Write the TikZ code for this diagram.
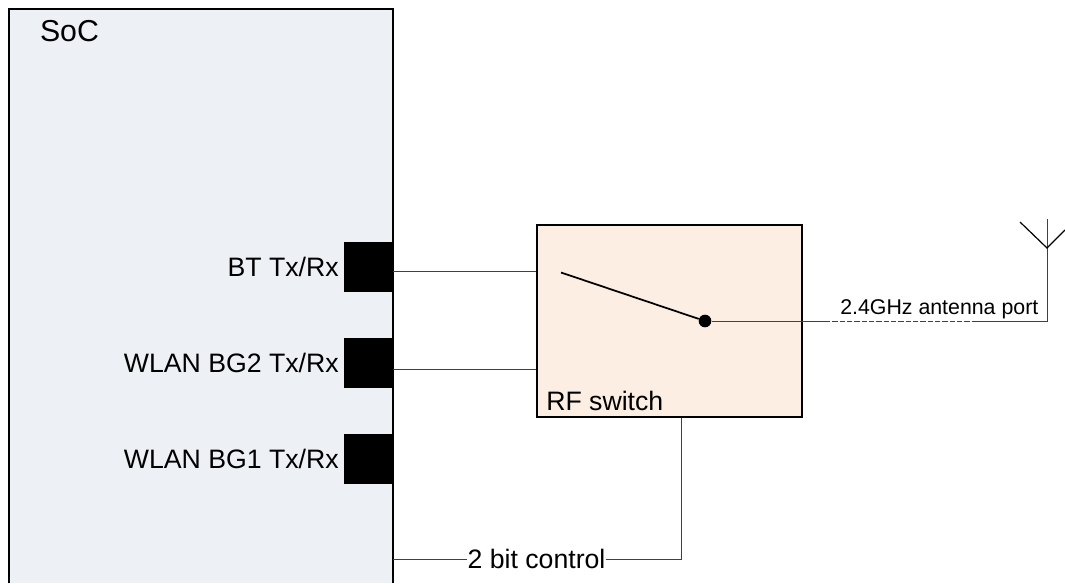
\documentclass[tikz,border=0pt]{standalone}
\usepackage{fontspec}
\setmainfont{Liberation Sans}
\definecolor{socfill}{HTML}{EDF0F5}
\definecolor{switchfill}{HTML}{FDEEE3}
\definecolor{wirecol}{HTML}{404040}
\tikzset{
    padbox/.style={draw=black,fill=black,minimum width=36.4pt,minimum height=37pt,inner sep=0pt},
    padlabel/.style={anchor=east,inner sep=0pt,font=\fontsize{20}{24}\selectfont},
    wire/.style={draw=wirecol,line width=0.7pt},
}
\begin{document}
\begin{tikzpicture}[x=0.75pt,y=-0.75pt]
                \useasboundingbox (0,0) rectangle (1065,583);
                \fill[socfill] (9,9) rectangle (393,583);
                \draw[line width=1.1pt] (9,583) -- (9,9) -- (393,9) -- (393,583);
                \node[anchor=center,inner sep=0pt,font=\fontsize{22.7}{27}\selectfont] (soclabel) at (69.5,31) {SoC};
                \node[padbox] (btpad) at (368.7,266.7) {};
                \node[padbox] (bgtwopad) at (368.7,362.7) {};
                \node[padbox] (bgonepad) at (368.7,459) {};
                \node[padlabel] (btlabel) at (339,267) {BT Tx/Rx};
                \node[padlabel] (bgtwolabel) at (339,363) {WLAN BG2 Tx/Rx};
                \node[padlabel] (bgonelabel) at (339,459) {WLAN BG1 Tx/Rx};
                \node[draw=black,fill=switchfill,line width=1.1pt,minimum width=198.8pt,minimum height=144pt,inner sep=0pt] (switch) at (669.5,321) {};
                \node[anchor=south west,inner sep=0pt,font=\fontsize{20}{24}\selectfont] (switchlabel) at (546,411) {RF switch};
                \node[circle,fill=black,minimum size=9.5pt,inner sep=0pt] (pivot) at (705,321) {};
                \coordinate (throw) at (561,272.5);
                \draw[line width=1.3pt] (throw) -- (pivot);
                \coordinate (btin) at (btpad.east |- 0,271);
                \coordinate (bgin) at (bgtwopad.east |- 0,369);
                \draw[wire] (btin) -- (btin -| switch.west);
                \draw[wire] (bgin) -- (bgin -| switch.west);
                % antenna
                \coordinate (feed) at (1047,321);
                \coordinate (apex) at (1047,248);
                \coordinate (tip) at (1047,219);
                \coordinate (dashstart) at (825,321);
                \coordinate (dashend) at (975,321);
                \draw[wire] (pivot) -- (dashstart);
                \draw[wire,dash pattern=on 4pt off 1.5pt] (dashstart) -- (dashend);
                \draw[wire] (dashend) -- (feed) -- (tip);
                \draw[line width=0.9pt] (1020,222) -- (apex) -- (1065,230);
                \node[anchor=south west,inner sep=0pt,font=\fontsize{16}{19}\selectfont] (portlabel) at (840,319) {2.4GHz antenna port};
                % control
                \node[inner sep=0pt,font=\fontsize{20}{24}\selectfont] (control) at (536.5,559) {2 bit control};
                \coordinate (ctlstart) at (393,559);
                \coordinate (ctlcorner) at (681,559);
                \draw[wire] (ctlstart) -- (control);
                \draw[wire] (control) -- (ctlcorner) -- (ctlcorner |- switch.south);
            \end{tikzpicture}
\end{document}
